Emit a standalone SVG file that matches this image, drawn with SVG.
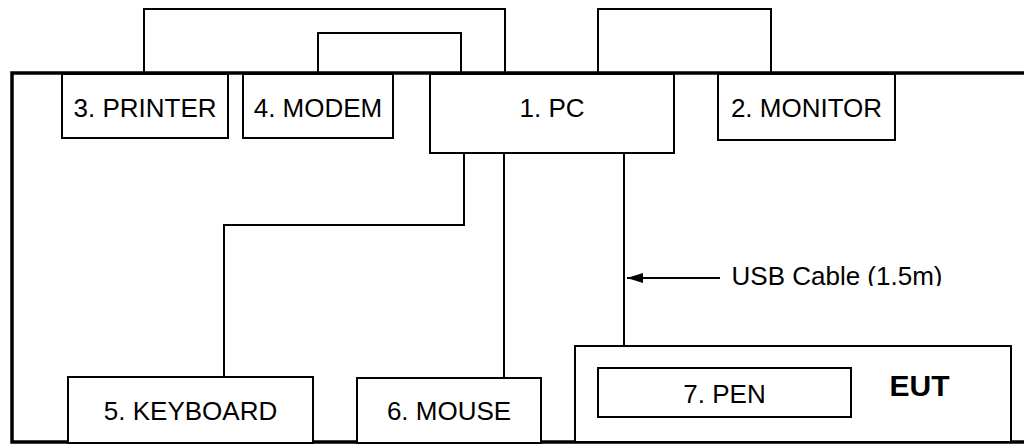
<svg xmlns="http://www.w3.org/2000/svg" width="1024" height="444" viewBox="0 0 1024 444">
<style>
.box{fill:#fff;stroke:#000;stroke-width:2}
.t{font-family:"Liberation Sans",Arial,sans-serif;font-size:26px;fill:#000;text-anchor:middle}
.b{font-weight:bold;font-size:30px}
.c{fill:none;stroke:#000;stroke-width:2}
</style>
<defs>
<marker id="ah" viewBox="0 0 16 10" refX="16" refY="5" markerWidth="16" markerHeight="10" markerUnits="userSpaceOnUse" orient="auto">
<path d="M0,0 L16,5 L0,10 Z" fill="#000"/>
</marker>
<clipPath id="usbclip"><rect x="700" y="250" width="300" height="36"/></clipPath>
</defs>
<rect width="1024" height="444" fill="#fff"/>
<path d="M1026,73 H12 V442 H1026" fill="none" stroke="#000" stroke-width="3.5"/>
<g id="connectors">
<path class="c" d="M144,73 V9 H505 V73"/>
<path class="c" d="M318,73 V33 H461 V73"/>
<path class="c" d="M598,73 V9 H771 V73"/>
<path class="c" d="M464,153 V225 H224 V377"/>
<path class="c" d="M504,153 V378"/>
<path class="c" d="M624,153 V346"/>
<line class="c" x1="720" y1="278" x2="627" y2="278" marker-end="url(#ah)"/>
<text class="t" x="837" y="285" clip-path="url(#usbclip)">USB Cable (1.5m)</text>
</g>
<g id="printer"><rect class="box" x="62" y="74" width="166" height="64"/><text class="t" x="145" y="117">3. PRINTER</text></g>
<g id="modem"><rect class="box" x="243" y="74" width="150" height="64"/><text class="t" x="318" y="117">4. MODEM</text></g>
<g id="pc"><rect class="box" x="430" y="74" width="244" height="79"/><text class="t" x="552" y="117">1. PC</text></g>
<g id="monitor"><rect class="box" x="718" y="74" width="177" height="66"/><text class="t" x="806.5" y="117">2. MONITOR</text></g>
<g id="keyboard"><rect class="box" x="68" y="377" width="245" height="66"/><text class="t" x="190.5" y="420">5. KEYBOARD</text></g>
<g id="mouse"><rect class="box" x="357" y="378" width="184" height="65"/><text class="t" x="449" y="420">6. MOUSE</text></g>
<g id="eut"><rect class="box" x="575" y="346" width="436" height="96"/><text class="t b" x="919.5" y="396">EUT</text></g>
<g id="pen"><rect class="box" x="598" y="368" width="253" height="49"/><text class="t" x="724.5" y="403">7. PEN</text></g>
</svg>
